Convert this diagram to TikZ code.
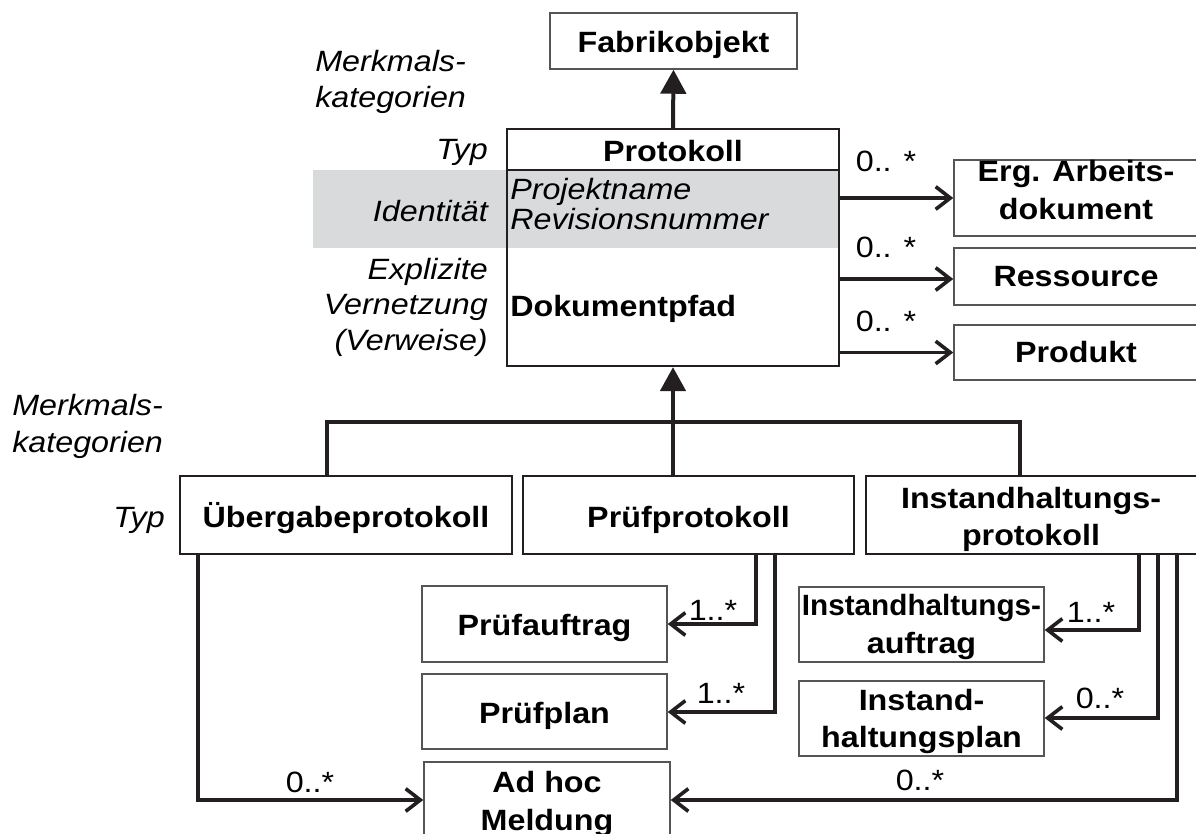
\documentclass[tikz,border=0pt]{standalone}
\usepackage{fontspec}
\setmainfont{Liberation Sans}[FakeStretch=1.1]
\usetikzlibrary{arrows.meta,fit}
\definecolor{band}{HTML}{D9DADC}
\definecolor{ln}{HTML}{231F20}
\definecolor{thinln}{HTML}{555555}
\newcommand{\dfont}{\fontsize{22pt}{28pt}\selectfont}
\begin{document}
\begin{tikzpicture}[x=0.75pt,y=-0.75pt,
  box/.style={draw=ln,line width=1.8pt,inner sep=0pt},
  sbox/.style={box,draw=thinln,line width=1.1pt},
  btxt/.style={font=\dfont\bfseries,anchor=base,inner sep=0pt},
  gen/.style={draw=ln,line width=3pt,-{Triangle[length=18pt,width=19pt]}},
  bar/.style={draw=ln,line width=3pt},
  assoc/.style={draw=ln,line width=2.7pt,-{Straight Barb[length=11pt,width=17pt]}},
  mult/.style={font=\dfont,anchor=base,inner sep=0pt},
  side/.style={font=\dfont\itshape,anchor=base east,inner sep=0pt},
  cat/.style={font=\dfont\itshape,anchor=base west,inner sep=0pt},
  attr/.style={font=\dfont\itshape,anchor=base west,inner sep=0pt}]
\useasboundingbox (0,0) rectangle (1196,834);
\clip (0,0) rectangle (1196,834);

% grey identity band
\fill[band] (313,170) rectangle (839,248);

% boxes
\node[sbox, fit={(550,13)(797,69)}] (fab) {};
\node[btxt] (fabT) at (673.5,53) {Fabrikobjekt};

\node[box, fit={(507,129)(839,366)}] (prot) {};
\coordinate (dv) at (0,170);
\draw[ln,line width=1.8pt] (prot.west |- dv) -- (prot.east |- dv);
\node[btxt] (ptitle) at (673,162) {Protokoll};
\node[attr] (pname) at (510,200) {Projektname};
\node[attr] (prev) at (510,230) {Revisionsnummer};
\node[btxt,anchor=base west] (ppath) at (510,317) {Dokumentpfad};

\node[sbox, fit={(954,160)(1200,236)}] (erg) {};
\node[btxt] (ergT1) at (1076,182) {Erg. Arbeits-};
\node[btxt] (ergT2) at (1076,220) {dokument};
\node[sbox, fit={(954,248)(1200,305)}] (res) {};
\node[btxt] (resT) at (1076,287) {Ressource};
\node[sbox, fit={(954,325)(1200,380)}] (prod) {};
\node[btxt] (prodT) at (1076,363) {Produkt};

\node[box, fit={(180,476)(512,554)}] (ueb) {};
\node[btxt] (uebT) at (346,527) {Übergabeprotokoll};
\node[box, fit={(523,476)(854,554)}] (pruef) {};
\node[btxt] (pruefT) at (688.5,527) {Prüfprotokoll};
\node[box, fit={(866,476)(1198,554)}] (inst) {};
\node[btxt] (instT1) at (1031,508) {Instandhaltungs-};
\node[btxt] (instT2) at (1031,545) {protokoll};

\node[sbox, fit={(422,586)(667,662)}] (pa) {};
\node[btxt] (paT) at (544.5,635) {Prüfauftrag};
\node[sbox, fit={(422,674)(667,749)}] (pp) {};
\node[btxt] (ppT) at (544.5,723) {Prüfplan};
\node[sbox, fit={(424,762)(670,844)}] (adhoc) {};
\node[btxt] (adT1) at (547,792) {Ad hoc};
\node[btxt] (adT2) at (547,830) {Meldung};
\node[sbox, fit={(799,587)(1044,662)}] (ia) {};
\node[btxt] (iaT1) at (921.5,615) {\scalebox{0.92}[1]{Instandhaltungs-}};
\node[btxt] (iaT2) at (921.5,653) {auftrag};
\node[sbox, fit={(799,681)(1044,756)}] (ip) {};
\node[btxt] (ipT1) at (921.5,710) {Instand-};
\node[btxt] (ipT2) at (921.5,747) {haltungsplan};

% side labels
\node[cat] (mk1) at (315,72) {Merkmals-};
\node[cat] (kg1) at (315,108) {kategorien};
\node[side] (typ1) at (488,160) {Typ};
\node[side] (ident) at (488,222) {Identität};
\node[side] (expl) at (488,280) {Explizite};
\node[side] (vern) at (488,315) {Vernetzung};
\node[side] (verw) at (488,350) {(Verweise)};
\node[cat] (mk2) at (12,415) {Merkmals-};
\node[cat] (kg2) at (12,452) {kategorien};
\node[side] (typ2) at (165,527) {Typ};

% generalisation
\draw[gen] (prot.north) -- (fab.south);
\coordinate (bl) at (327,422);
\coordinate (br) at (1020,422);
\coordinate (j) at (673,422);
\draw[bar] (ueb.north -| bl) -- (bl) -- (br) -- (inst.north -| br);
\draw[bar] (pruef.north -| j) -- (j);
\draw[gen] (j) -- (prot.south);

% associations from Protokoll
\draw[assoc] (erg.west -| prot.east) -- (erg.west);
\coordinate (r2) at (0,279);
\draw[assoc] (prot.east |- r2) -- (res.west |- r2);
\draw[assoc] (prod.west -| prot.east) -- (prod.west);
\node[mult] (m1) at (886,172) {0.. *};
\node[mult] (m2) at (886,258) {0.. *};
\node[mult] (m3) at (886,332) {0.. *};

% lower associations
\coordinate (a1) at (756,624);
\coordinate (a2) at (775,712);
\coordinate (a3) at (1139,630);
\coordinate (a4) at (1158,718);
\coordinate (a5) at (1177,800);
\coordinate (a6) at (198,800);
\draw[assoc] (pruef.south -| a1) -- (a1) -- (pa.east |- a1);
\draw[assoc] (pruef.south -| a2) -- (a2) -- (pp.east |- a2);
\draw[assoc] (inst.south -| a3) -- (a3) -- (ia.east |- a3);
\draw[assoc] (inst.south -| a4) -- (a4) -- (ip.east |- a4);
\draw[assoc] (inst.south -| a5) -- (a5) -- (adhoc.east |- a5);
\draw[assoc] (ueb.south -| a6) -- (a6) -- (adhoc.west |- a6);

\node[mult] (m4) at (713,620) {1..*};
\node[mult] (m5) at (721,703) {1..*};
\node[mult] (m6) at (1091,622) {1..*};
\node[mult] (m7) at (1100,708) {0..*};
\node[mult] (m8) at (920,790) {0..*};
\node[mult] (m9) at (310,792) {0..*};
\end{tikzpicture}
\end{document}
